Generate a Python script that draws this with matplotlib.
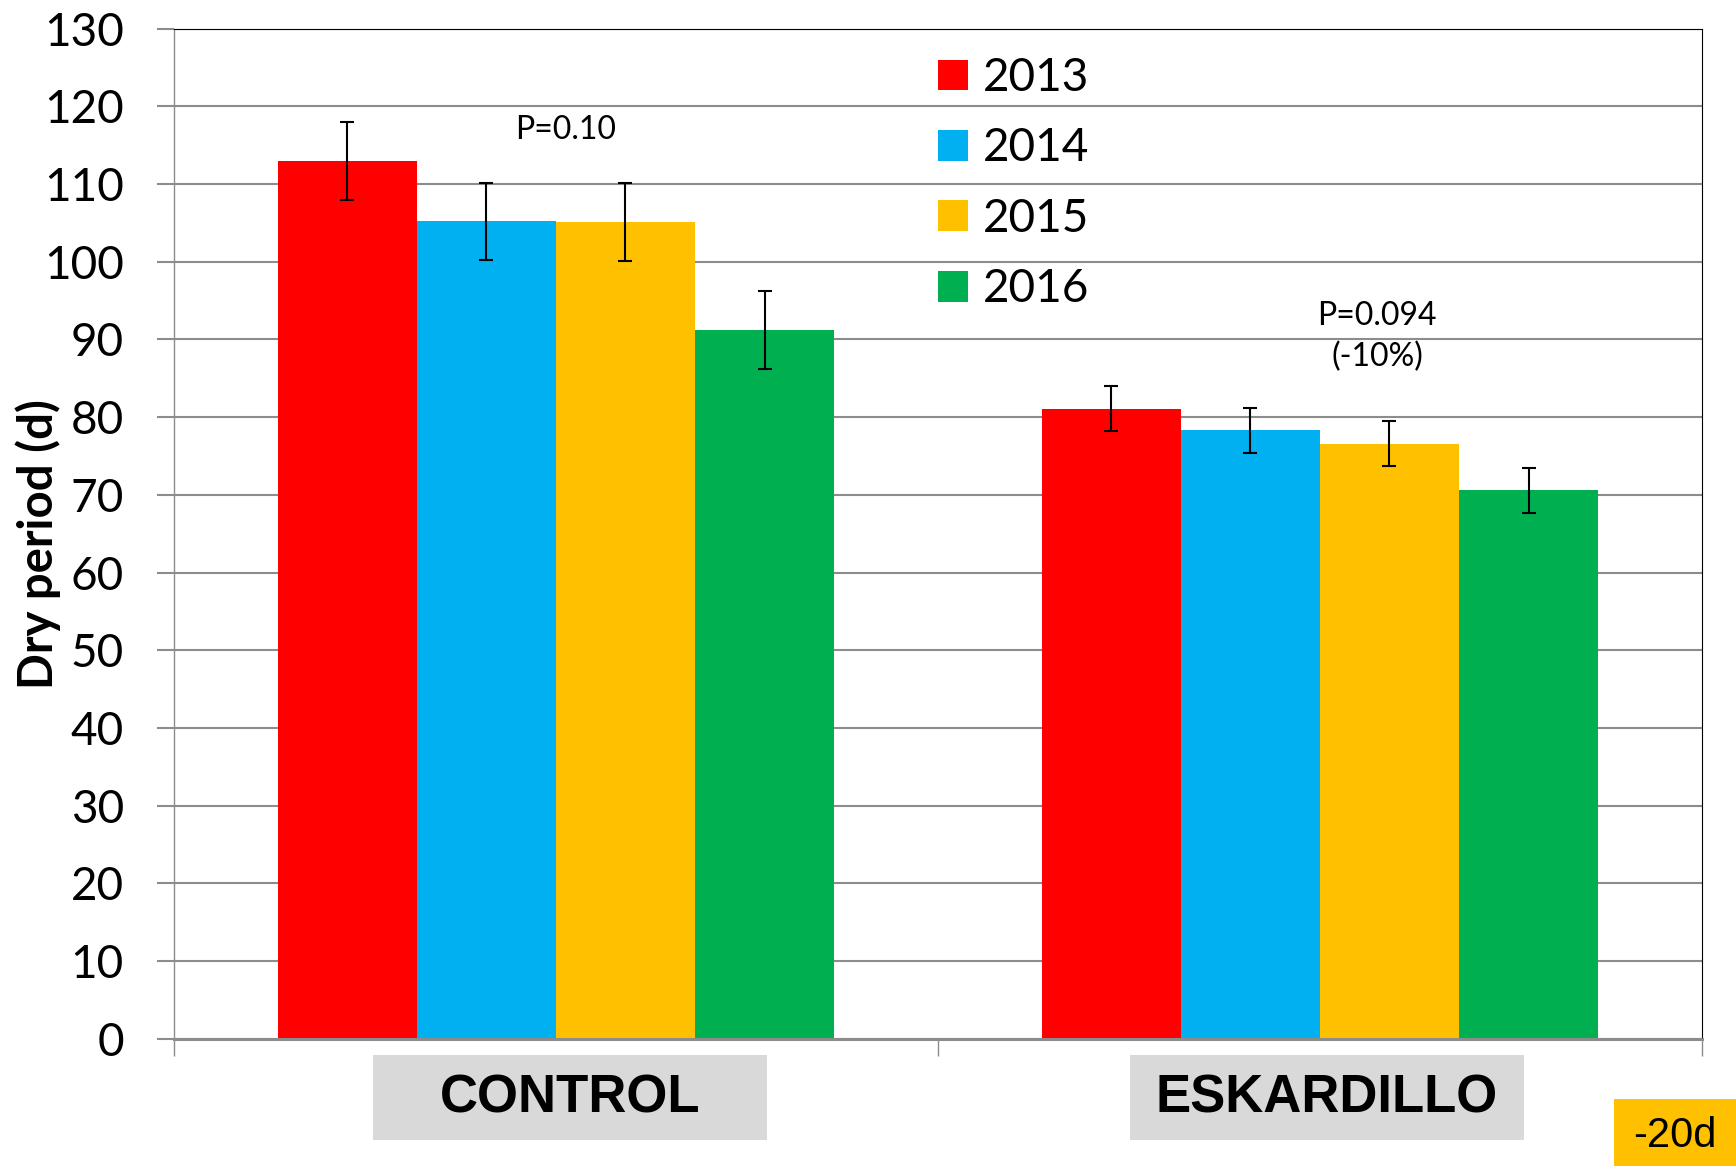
import numpy as np
import matplotlib.pyplot as plt
from matplotlib.patches import Rectangle

# data
groups = ["CONTROL", "ESKARDILLO"]
years = ["2013", "2014", "2015", "2016"]
control = [113.0, 105.2, 105.1, 91.2]
eskardillo = [81.1, 78.3, 76.6, 70.6]
control_err = [5.0, 5.0, 5.0, 5.0]
eskardillo_err = [2.9, 2.9, 2.9, 2.9]
colors = ["#FF0000", "#00B0F0", "#FFC000", "#00B050"]

values = np.array([control, eskardillo])
errors = np.array([control_err, eskardillo_err])

fig = plt.figure(figsize=(17.36, 11.66), dpi=100)
ax = fig.add_axes([0.1002, 0.1093, 0.8802, 0.8660])

x = np.arange(len(groups))
width = 0.182
for i, year in enumerate(years):
    pos = x + (i - 1.5) * width
    ax.bar(pos, values[:, i], width, color=colors[i], label=year, zorder=2)
    ax.errorbar(pos, values[:, i], yerr=errors[:, i], fmt="none", ecolor="black",
                elinewidth=1.5, capsize=5, capthick=1.5, zorder=3)

ax.set_xlim(-0.5, 1.5)
ax.set_ylim(0, 130)
ax.set_yticks(np.arange(0, 131, 10))
ax.set_xticks([-0.5, 0.5, 1.5])
ax.set_xticklabels([])
ax.yaxis.grid(True, color="#8c8c8c", linewidth=1.5)
ax.set_axisbelow(True)

ax.tick_params(axis="y", length=12, width=1.5, color="#8c8c8c", pad=24,
               labelsize=33)
ax.tick_params(axis="x", length=12, width=1.0, color="#8c8c8c")
for lab in ax.get_yticklabels():
    lab.set_fontfamily("Lato")

ax.spines["left"].set_color("#8c8c8c")
ax.spines["left"].set_linewidth(1.0)
ax.spines["bottom"].set_color("#8c8c8c")
ax.spines["bottom"].set_linewidth(2.2)
ax.spines["top"].set_color("black")
ax.spines["top"].set_linewidth(0.8)
ax.spines["right"].set_color("black")
ax.spines["right"].set_linewidth(0.8)

ax.set_ylabel("Dry period (d)", fontsize=34, fontweight="bold", family="Lato")
ax.yaxis.set_label_coords(-0.074, 0.49)

leg = ax.legend(loc="upper left", bbox_to_anchor=(0.5, 0.972), frameon=False,
                prop={"family": "Lato", "size": 33}, handlelength=0.655,
                handleheight=0.655, handletextpad=0.33, labelspacing=0.62,
                borderpad=0, borderaxespad=0)

ax.text(0.013, 117.0, "P=0.10", ha="center", va="center", fontsize=23,
        family="Lato")
ax.text(1.075, 90.4, "P=0.094\n(-10%)", ha="center", va="center", fontsize=23,
        family="Lato", linespacing=1.45)

# grey boxes under each group
trans = ax.get_xaxis_transform()
box_shift = [0.018, 0.009]
for gx, name, dx in zip(x, groups, box_shift):
    cx = gx + dx
    ax.add_patch(Rectangle((cx - 0.258, -0.1005), 0.516, 0.0842, transform=trans,
                           facecolor="#D9D9D9", edgecolor="none", clip_on=False))
    ax.text(cx, -0.059, name, transform=trans, ha="center", va="center",
            fontsize=38, fontweight="bold", family="Liberation Sans")

fig.add_artist(Rectangle((0.9297, 0.0), 0.0703, 0.0575, transform=fig.transFigure,
                         facecolor="#FFC000", edgecolor="none"))
fig.text(0.9649, 0.026, "-20d", ha="center", va="center", fontsize=30,
         family="Liberation Sans")

fig.savefig("out.png", dpi=100)
